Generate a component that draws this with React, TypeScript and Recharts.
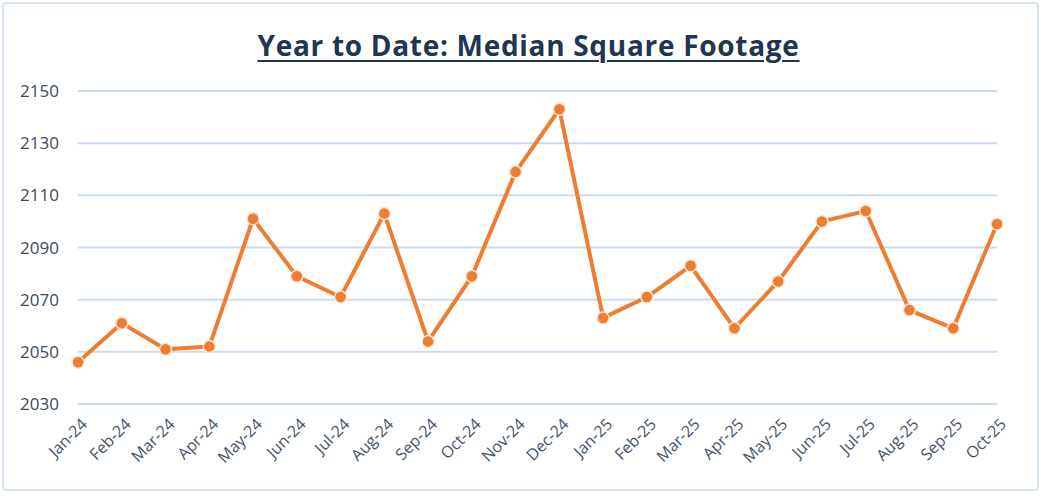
import React from "react";
import { LineChart, Line, XAxis, YAxis, CartesianGrid } from "recharts";

const months = [
  "Jan-24", "Feb-24", "Mar-24", "Apr-24", "May-24", "Jun-24", "Jul-24", "Aug-24",
  "Sep-24", "Oct-24", "Nov-24", "Dec-24", "Jan-25", "Feb-25", "Mar-25", "Apr-25",
  "May-25", "Jun-25", "Jul-25", "Aug-25", "Sep-25", "Oct-25",
];
const medianSqFt = [
  2046, 2061, 2051, 2052, 2101, 2079, 2071, 2103, 2054, 2079, 2119, 2143,
  2063, 2071, 2083, 2059, 2077, 2100, 2104, 2066, 2059, 2099,
];
const yTicks = [2030, 2050, 2070, 2090, 2110, 2130, 2150];
const title = "Year to Date: Median Square Footage";

const data = months.map((m, i) => ({ month: m, value: medianSqFt[i] }));

const XTick = (props: any) => {
  const { x, y, payload } = props;
  const tx = x + 6;
  const ty = y + 9;
  return (
    <text
      x={tx}
      y={ty}
      transform={`rotate(-45, ${tx}, ${ty})`}
      textAnchor="end"
      dominantBaseline="central"
      fill="#44546a"
      fontSize={16}
      fontFamily="'Open Sans', sans-serif"
    >
      {payload.value}
    </text>
  );
};

export default function App() {
  return (
    <div style={{ position: "absolute", left: 0, top: 0, width: 1041, height: 501, background: "#fff" }}>
      <div
        style={{
          position: "absolute",
          left: 2,
          top: 2,
          width: 1033,
          height: 485,
          border: "2px solid #d6e3f3",
          borderRadius: 4,
        }}
      />
      <div
        style={{
          position: "absolute",
          left: 0,
          top: 26,
          width: 1057,
          textAlign: "center",
          fontFamily: "'Open Sans', sans-serif",
          fontWeight: 700,
          fontSize: 28,
          color: "#1f3552",
          textDecoration: "underline",
          textDecorationThickness: 2,
          textUnderlineOffset: 4,
          letterSpacing: 0.7,
        }}
      >
        {title}
      </div>
      <div style={{ position: "absolute", left: 0, top: 0 }}>
        <LineChart
          width={1041}
          height={501}
          data={data}
          margin={{ top: 91, right: 44, bottom: 37, left: 18 }}
        >
          <CartesianGrid vertical={false} stroke="#cbdcf1" strokeWidth={2} />
          <XAxis
            dataKey="month"
            axisLine={false}
            tickLine={false}
            interval={0}
            tick={<XTick />}
            height={60}
          />
          <YAxis
            domain={[2030, 2150]}
            ticks={yTicks}
            axisLine={false}
            tickLine={false}
            width={60}
            tickMargin={13}
            tick={{ fill: "#3d4b5c", fontSize: 17, fontFamily: "'Open Sans', sans-serif" }}
          />
          <Line
            type="linear"
            dataKey="value"
            stroke="#ed7d31"
            strokeWidth={4}
            dot={{ r: 6, fill: "#ed7d31", stroke: "#fbe3d3", strokeWidth: 1.5 }}
            isAnimationActive={false}
          />
        </LineChart>
      </div>
    </div>
  );
}
